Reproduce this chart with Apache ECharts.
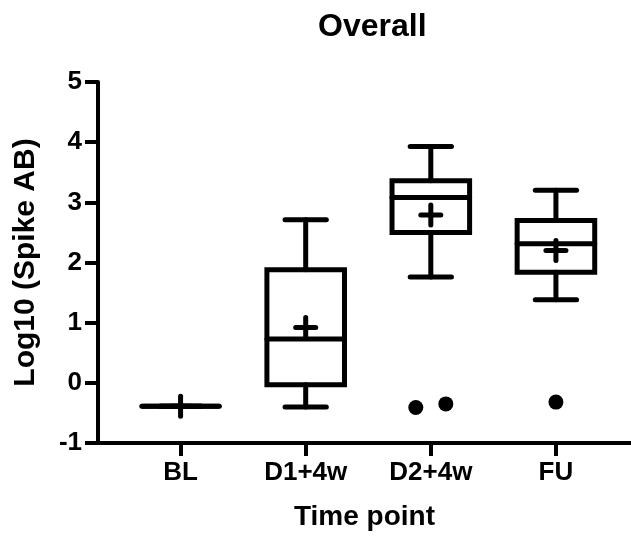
<!DOCTYPE html>
<html>
<head>
<meta charset="utf-8">
<script src="https://cdn.jsdelivr.net/npm/echarts@6/dist/echarts.min.js"></script>
<style>
  html, body { margin: 0; padding: 0; background: #fff; }
  #main { width: 631px; height: 540px; }
</style>
</head>
<body>
<div id="main"></div>
<script>
// 各时间点的箱线图数据
var categories = ['BL', 'D1+4w', 'D2+4w', 'FU'];
var minVals = [-0.39, -0.40, 1.76, 1.38];
var q1Vals = [-0.39, -0.03, 2.50, 1.84];
var medianVals = [-0.39, 0.73, 3.08, 2.31];
var q3Vals = [-0.39, 1.88, 3.36, 2.70];
var maxVals = [-0.39, 2.71, 3.93, 3.20];
var meanVals = [-0.39, 0.92, 2.79, 2.20];
// 离群点 [x位置, 值]
var outliers = [[1.88, -0.41], [2.12, -0.35], [3, -0.32]];
var yTicks = [-1, 0, 1, 2, 3, 4, 5];

var font = 'Liberation Sans, Arial, sans-serif';
var ink = '#000';

var chart = echarts.init(document.getElementById('main'));

var boxData = [];
categories.forEach(function(name, i) {
  boxData.push([i, minVals[i], q1Vals[i], medianVals[i], q3Vals[i], maxVals[i], meanVals[i]]);
});

function renderBox(params, api) {
  var i = api.value(0);
  var pMin = api.coord([i, api.value(1)]);
  var pQ1 = api.coord([i, api.value(2)]);
  var pMed = api.coord([i, api.value(3)]);
  var pQ3 = api.coord([i, api.value(4)]);
  var pMax = api.coord([i, api.value(5)]);
  var pMean = api.coord([i, api.value(6)]);
  var half = api.size([0.62, 0])[0] / 2;
  var cap = api.size([0.33, 0])[0] / 2;
  var plus = 10;
  var st = { stroke: ink, lineWidth: 5, fill: null, lineCap: 'round' };
  var cx = pMed[0];
  return {
    type: 'group',
    children: [
      { type: 'line', shape: { x1: cx, y1: pMin[1], x2: cx, y2: pQ1[1] }, style: st },
      { type: 'line', shape: { x1: cx, y1: pQ3[1], x2: cx, y2: pMax[1] }, style: st },
      { type: 'line', shape: { x1: cx - cap, y1: pMin[1], x2: cx + cap, y2: pMin[1] }, style: st },
      { type: 'line', shape: { x1: cx - cap, y1: pMax[1], x2: cx + cap, y2: pMax[1] }, style: st },
      { type: 'rect', shape: { x: cx - half, y: pQ3[1], width: half * 2, height: pQ1[1] - pQ3[1] },
        style: { stroke: ink, lineWidth: 5, fill: null } },
      { type: 'line', shape: { x1: cx - half, y1: pMed[1], x2: cx + half, y2: pMed[1] }, style: st },
      // 均值 +
      { type: 'line', shape: { x1: cx - plus, y1: pMean[1], x2: cx + plus, y2: pMean[1] }, style: st },
      { type: 'line', shape: { x1: cx, y1: pMean[1] - plus, x2: cx, y2: pMean[1] + plus }, style: st }
    ]
  };
}

chart.setOption({
  animation: false,
  title: {
    text: 'Overall',
    left: 313,
    top: 6,
    textStyle: { fontFamily: font, fontSize: 32, fontWeight: 'bold', color: ink }
  },
  grid: { left: 98, right: 0, top: 82, bottom: 97 },
  xAxis: {
    type: 'value',
    min: -0.66,
    max: 3.6,
    name: 'Time point',
    nameLocation: 'middle',
    nameGap: 60,
    nameTextStyle: { fontFamily: font, fontSize: 28, fontWeight: 'bold', color: ink },
    splitLine: { show: false },
    axisLine: { onZero: false, lineStyle: { color: ink, width: 4 } },
    axisTick: { customValues: [0, 1, 2, 3], length: 13, lineStyle: { color: ink, width: 4 } },
    axisLabel: {
      customValues: [0, 1, 2, 3],
      margin: 17,
      fontFamily: font, fontSize: 26, fontWeight: 'bold', color: ink,
      formatter: function(v) { return categories[Math.round(v)]; }
    }
  },
  yAxis: {
    type: 'value',
    min: yTicks[0],
    max: yTicks[yTicks.length - 1],
    interval: 1,
    name: 'Log10 (Spike AB)',
    nameLocation: 'middle',
    nameGap: 57,
    nameTextStyle: { fontFamily: font, fontSize: 30, fontWeight: 'bold', color: ink },
    splitLine: { show: false },
    axisLine: { show: true, onZero: false, lineStyle: { color: ink, width: 4 } },
    axisTick: { show: true, length: 13, lineStyle: { color: ink, width: 4 } },
    axisLabel: { margin: 16, fontFamily: font, fontSize: 26, fontWeight: 'bold', color: ink }
  },
  series: [
    {
      type: 'custom',
      renderItem: renderBox,
      encode: { x: 0, y: [1, 2, 3, 4, 5, 6] },
      data: boxData
    },
    {
      type: 'scatter',
      symbolSize: 15,
      itemStyle: { color: ink, opacity: 1 },
      data: outliers
    }
  ]
});
</script>
</body>
</html>
